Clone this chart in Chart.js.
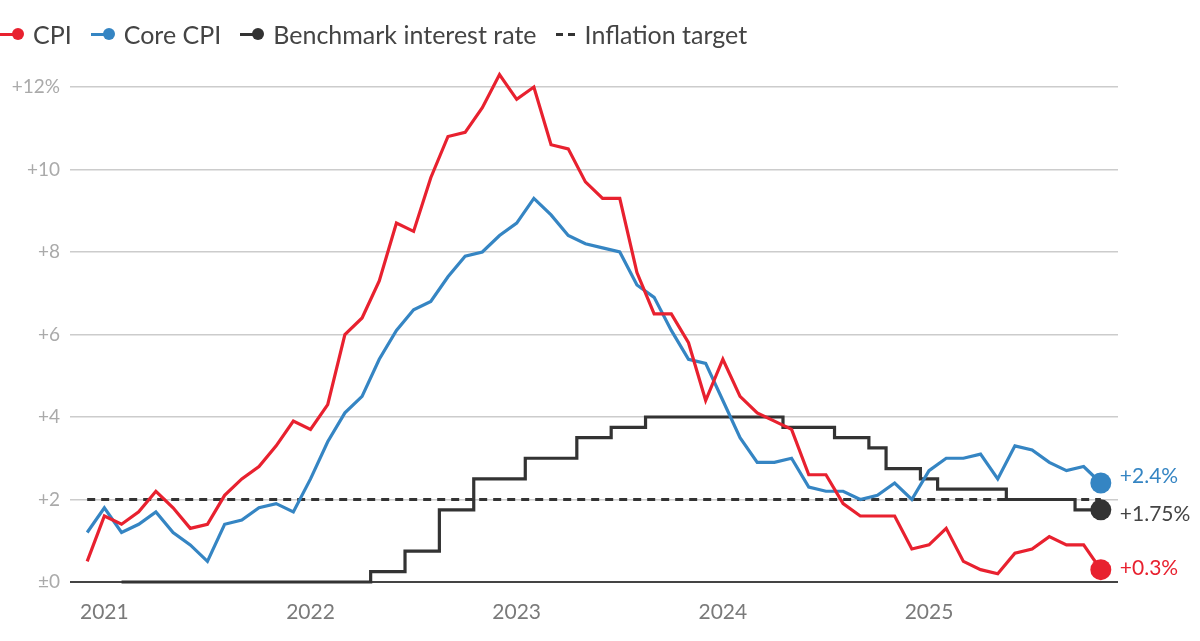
<!DOCTYPE html>
<html>
<head>
<meta charset="utf-8">
<script src="https://cdn.jsdelivr.net/npm/chart.js@4.4.1/dist/chart.umd.min.js"></script>
<style>
  html, body { margin: 0; padding: 0; background: #fff; }
  body { width: 1200px; height: 641px; position: relative; overflow: hidden; font-family: Lato, "Noto Sans", sans-serif; }
  #legend { position: absolute; left: 0; top: 17px; height: 34px; display: flex; align-items: center; font-size: 25px; color: #444; white-space: nowrap; }
  .item { display: flex; align-items: center; margin-right: 19px; }
  .mk { position: relative; width: 24px; height: 14px; margin-right: 9px; }
  .mk .ln { position: absolute; left: 0; top: 5.5px; width: 14px; height: 3px; }
  .mk .dt { position: absolute; left: 12px; top: 1px; width: 12px; height: 12px; border-radius: 50%; }
  .mk.dash { width: 20px; }
  .mk.dash .d1, .mk.dash .d2 { position: absolute; top: 5.5px; width: 7px; height: 3px; background: #333; }
  .mk.dash .d1 { left: 0; } .mk.dash .d2 { left: 12px; }
  #wrap { position: absolute; left: 0; top: 0; width: 1200px; height: 641px; }
</style>
</head>
<body>
<div id="wrap"><canvas id="c" width="1200" height="641"></canvas></div>
<div id="legend"></div>
<script>
// ---- Data (monthly, Dec 2020 – Nov 2025) ----
const months = [
  '2020-12',
  '2021-01','2021-02','2021-03','2021-04','2021-05','2021-06','2021-07','2021-08','2021-09','2021-10','2021-11','2021-12',
  '2022-01','2022-02','2022-03','2022-04','2022-05','2022-06','2022-07','2022-08','2022-09','2022-10','2022-11','2022-12',
  '2023-01','2023-02','2023-03','2023-04','2023-05','2023-06','2023-07','2023-08','2023-09','2023-10','2023-11','2023-12',
  '2024-01','2024-02','2024-03','2024-04','2024-05','2024-06','2024-07','2024-08','2024-09','2024-10','2024-11','2024-12',
  '2025-01','2025-02','2025-03','2025-04','2025-05','2025-06','2025-07','2025-08','2025-09','2025-10','2025-11'
];
const cpi = [
  0.5,
  1.6, 1.4, 1.7, 2.2, 1.8, 1.3, 1.4, 2.1, 2.5, 2.8, 3.3, 3.9,
  3.7, 4.3, 6.0, 6.4, 7.3, 8.7, 8.5, 9.8, 10.8, 10.9, 11.5, 12.3,
  11.7, 12.0, 10.6, 10.5, 9.7, 9.3, 9.3, 7.5, 6.5, 6.5, 5.8, 4.4,
  5.4, 4.5, 4.1, 3.9, 3.7, 2.6, 2.6, 1.9, 1.6, 1.6, 1.6, 0.8,
  0.9, 1.3, 0.5, 0.3, 0.2, 0.7, 0.8, 1.1, 0.9, 0.9, 0.3
];
const coreCpi = [
  1.2,
  1.8, 1.2, 1.4, 1.7, 1.2, 0.9, 0.5, 1.4, 1.5, 1.8, 1.9, 1.7,
  2.5, 3.4, 4.1, 4.5, 5.4, 6.1, 6.6, 6.8, 7.4, 7.9, 8.0, 8.4,
  8.7, 9.3, 8.9, 8.4, 8.2, 8.1, 8.0, 7.2, 6.9, 6.1, 5.4, 5.3,
  4.4, 3.5, 2.9, 2.9, 3.0, 2.3, 2.2, 2.2, 2.0, 2.1, 2.4, 2.0,
  2.7, 3.0, 3.0, 3.1, 2.5, 3.3, 3.2, 2.9, 2.7, 2.8, 2.4
];
const policyRate = [
  null,
  null, 0, 0, 0, 0, 0, 0, 0, 0, 0, 0, 0,
  0, 0, 0, 0, 0.25, 0.25, 0.75, 0.75, 1.75, 1.75, 2.5, 2.5,
  2.5, 3.0, 3.0, 3.0, 3.5, 3.5, 3.75, 3.75, 4.0, 4.0, 4.0, 4.0,
  4.0, 4.0, 4.0, 4.0, 3.75, 3.75, 3.75, 3.5, 3.5, 3.25, 2.75, 2.75,
  2.5, 2.25, 2.25, 2.25, 2.25, 2.0, 2.0, 2.0, 2.0, 1.75, 1.75
];
const inflationTarget = 2;
const seriesNames = ['CPI', 'Core CPI', 'Benchmark interest rate', 'Inflation target'];
const yearTicks = ['2021', '2022', '2023', '2024', '2025'];
const yTicks = [0, 2, 4, 6, 8, 10, 12];
const endLabels = ['+0.3%', '+2.4%', '+1.75%'];

// ---- Styling ----
const RED = '#e8212f', BLUE = '#3585c3', DARK = '#333333';

// build helpers
const xy = arr => arr.map((v, i) => ({ x: i, y: v }));
const last = months.length - 1;
const endRadius = arr => arr.map((v, i) => (i === last ? 10.5 : 0));
const yearIndex = yearTicks.map(y => months.indexOf(y + '-01'));

// legend
const legendEl = document.getElementById('legend');
const legendColors = [RED, BLUE, DARK];
seriesNames.forEach((name, i) => {
  const it = document.createElement('div');
  it.className = 'item';
  if (i < 3) {
    it.innerHTML = '<div class="mk"><div class="ln" style="background:' + legendColors[i] + '"></div><div class="dt" style="background:' + legendColors[i] + '"></div></div><span>' + name + '</span>';
  } else {
    it.innerHTML = '<div class="mk dash"><div class="d1"></div><div class="d2"></div></div><span>' + name + '</span>';
  }
  legendEl.appendChild(it);
});

const endLabelPlugin = {
  id: 'endLabels',
  afterDatasetsDraw(chart) {
    const ctx = chart.ctx;
    const xs = chart.scales.x, ys = chart.scales.y;
    const items = [
      { v: cpi[last], text: endLabels[0], color: RED, dy: -1 },
      { v: coreCpi[last], text: endLabels[1], color: BLUE, dy: -7 },
      { v: policyRate[last], text: endLabels[2], color: '#444', dy: 4 }
    ];
    ctx.save();
    ctx.font = '21px Lato, "Noto Sans", sans-serif';
    ctx.textBaseline = 'middle';
    ctx.textAlign = 'left';
    items.forEach(o => {
      ctx.fillStyle = o.color;
      ctx.fillText(o.text, xs.getPixelForValue(last) + 19, ys.getPixelForValue(o.v) + o.dy);
    });
    ctx.restore();
  }
};

new Chart(document.getElementById('c'), {
  type: 'line',
  data: {
    datasets: [
      { label: seriesNames[0], data: xy(cpi), borderColor: RED, backgroundColor: RED, borderWidth: 3.2,
        pointRadius: endRadius(cpi), pointBorderWidth: 0, tension: 0, clip: false },
      { label: seriesNames[1], data: xy(coreCpi), borderColor: BLUE, backgroundColor: BLUE, borderWidth: 3.2,
        pointRadius: endRadius(coreCpi), pointBorderWidth: 0, tension: 0, clip: false },
      { label: seriesNames[2], data: xy(policyRate), borderColor: DARK, backgroundColor: DARK, borderWidth: 3.2,
        stepped: 'middle', pointRadius: endRadius(policyRate), pointBorderWidth: 0, clip: false },
      { label: seriesNames[3], data: [{ x: 0, y: inflationTarget }, { x: last, y: inflationTarget }],
        borderColor: DARK, borderWidth: 3, borderDash: [8, 6], pointRadius: 0, clip: false }
    ]
  },
  options: {
    responsive: false,
    animation: false,
    events: [],
    layout: { padding: { top: 87, right: 82, bottom: 0, left: 0 } },
    plugins: { legend: { display: false }, tooltip: { enabled: false } },
    scales: {
      x: {
        type: 'linear', min: -1, max: last + 1,
        grid: { display: false }, border: { display: false },
        afterBuildTicks: s => { s.ticks = yearIndex.map(v => ({ value: v })); },
        afterFit: s => { s.height = 59; },
        ticks: {
          autoSkip: false, maxRotation: 0, padding: 10, color: '#7a7a7a',
          font: { family: 'Lato', size: 21 },
          callback: (v) => yearTicks[yearIndex.indexOf(v)]
        }
      },
      y: {
        min: 0, max: 12,
        afterBuildTicks: s => { s.ticks = yTicks.map(v => ({ value: v })); },
        afterFit: s => { s.width = 70; },
        border: { display: false },
        grid: {
          drawTicks: false,
          color: c => (c.tick && c.tick.value === 0 ? '#444' : '#cccccc'),
          lineWidth: c => (c.tick && c.tick.value === 0 ? 2 : 1.5)
        },
        ticks: {
          padding: 10, color: '#aaaaaa',
          font: { family: 'Lato', size: 19 },
          callback: v => (v === 0 ? '±0' : v === 12 ? '+12%' : '+' + v)
        }
      }
    }
  },
  plugins: [endLabelPlugin]
});
</script>
</body>
</html>
